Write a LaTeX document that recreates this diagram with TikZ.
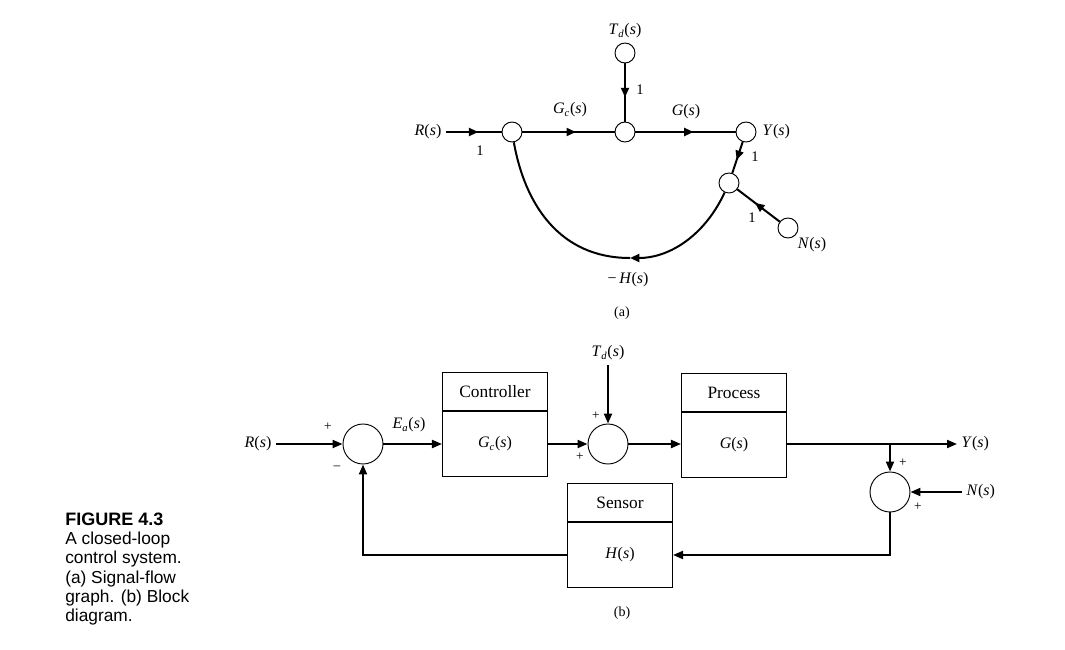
\documentclass[tikz,border=0pt]{standalone}
\usepackage{fontspec}
\setmainfont{Liberation Serif}
\setsansfont{Liberation Sans}
\usetikzlibrary{arrows.meta, decorations.markings, positioning}
\newcommand{\tfn}[1]{\textit{#1}(\textit{s})}
\newcommand{\tfnsub}[2]{\textit{#1}\textsubscript{\textit{#2}}(\textit{s})}

\begin{document}
\begin{tikzpicture}[x=0.75pt, y=-0.75pt,
  every node/.style={font=\fontsize{12}{14}\selectfont},
  sfnode/.style={circle, draw, line width=0.7pt, minimum size=15pt, inner sep=0pt},
  sfbranch/.style={line width=1.5pt},
  midarrow/.style={postaction={decorate}, decoration={markings, mark=at position #1 with {\arrow{Triangle[length=7pt,width=6pt]}}}},
  midarrow/.default=0.58,
  gain/.style={font=\fontsize{11}{12}\selectfont, inner sep=1pt},
  sumnode/.style={circle, draw, line width=0.7pt, minimum size=30pt, inner sep=0pt},
  blockhead/.style={draw, line width=0.8pt, minimum width=78.75pt, minimum height=28.5pt, inner sep=0pt, font=\fontsize{13}{15}\selectfont},
  blockbody/.style={draw, line width=0.8pt, minimum width=78.75pt, minimum height=48.75pt, inner sep=0pt},
  signal/.style={line width=1.5pt, -{Triangle[length=7.5pt,width=6pt]}},
  wire/.style={line width=1.5pt},
  sign/.style={font=\fontsize{10}{11}\selectfont, inner sep=0pt},
  sublabel/.style={font=\fontsize{10.5}{12}\selectfont},
  caption/.style={font=\sffamily\fontsize{13}{14.3}\selectfont, align=left, inner sep=0pt}]
  \useasboundingbox (0,0) rectangle (1065,650);

  \node[sfnode] (n1) at (512,132) {};
  \node[sfnode] (n2) at (625,132) {};
  \node[sfnode] (ny) at (746,132) {};
  \node[sfnode] (ntd) at (625,53) {};
  \node[sfnode] (nj) at (729,183) {};
  \node[sfnode] (nn) at (788,228) {};
  \node (rin) at (428,132) {\tfn{R}};
  \node (tdin) at (625,31) {\tfnsub{T}{d}};
  \node[anchor=west] (yout) at (758,132) {\tfn{Y}};
  \node (nin) at (812,245) {\tfn{N}};
  \coordinate (hbot) at (630,258);
  \draw[sfbranch, midarrow] (rin) -- (n1);
  \draw[sfbranch, midarrow] (n1) -- (n2);
  \draw[sfbranch, midarrow] (ntd) -- (n2);
  \draw[sfbranch, midarrow] (n2) -- (ny);
  \draw[sfbranch, midarrow] (ny) -- (nj);
  \draw[sfbranch, midarrow] (nn) -- (nj);
  \draw[sfbranch, -{Triangle[length=7pt,width=6pt]}] (nj) .. controls (705,235) and (670,258) .. (hbot);
  \draw[sfbranch] (hbot) .. controls (560,258) and (525,205) .. (n1);
  \node[gain] (g1) at (480,151) {1};
  \node (gcl) at (570,110) {\tfnsub{G}{c}};
  \node[gain] (g2) at (640,90) {1};
  \node (gl) at (686,112) {\tfn{G}};
  \node[gain] (g3) at (755,157) {1};
  \node[gain] (g4) at (752,218) {1};
  \node (hl) at (628,280) {−\,\tfn{H}};
  \node[sublabel] (capa) at (622,313) {(a)};

  \node[sumnode] (s1) at (363,444) {};
  \node[sumnode] (s2) at (608,444) {};
  \node[sumnode] (s3) at (890,492) {};
  \node[blockbody] (ctrl) at (495,444) {\tfnsub{G}{c}};
  \node[blockhead, above=0pt of ctrl] (ctrlh) {Controller};
  \node[blockbody] (proc) at (734,445) {\tfn{G}};
  \node[blockhead, above=0pt of proc] (proch) {Process};
  \node[blockbody] (sens) at (620,555) {\tfn{H}};
  \node[blockhead, above=0pt of sens] (sensh) {Sensor};
  \node (rb) at (258,444) {\tfn{R}};
  \node (tdb) at (608,353) {\tfnsub{T}{d}};
  \node[anchor=west] (yb) at (957,444) {\tfn{Y}};
  \node[anchor=west] (nb) at (962,492) {\tfn{N}};
  \node (eal) at (409,425) {\tfnsub{E}{a}};
  \coordinate (ybr) at (890,444);
  \draw[signal] (rb) -- (s1);
  \draw[signal] (s1) -- (ctrl);
  \draw[signal] (ctrl) -- (s2);
  \draw[signal] (tdb) -- (s2);
  \draw[signal] (s2) -- (s2 -| proc.west);
  \draw[signal] (proc.east |- s2) -- (yb.west);
  \draw[signal] (ybr) -- (s3);
  \draw[signal] (nb.west) -- (s3);
  \draw[signal] (s3) |- (sens);
  \draw[signal] (sens) -| (s1);
  \node[sign] (p1) at (328,427) {+};
  \node[sign] (m1) at (337,468) {–};
  \node[sign] (p2) at (596,416) {+};
  \node[sign] (p3) at (580,457) {+};
  \node[sign] (p4) at (903,463) {+};
  \node[sign] (p5) at (918,507) {+};
  \node[sublabel] (capb) at (622,613) {(b)};

  \node[caption, anchor=north west] (cap) at (65,513) {{\bfseries\fontsize{13.5}{14.3}\selectfont FIGURE 4.3}\\A closed-loop\\control system.\\(a) Signal-flow\\graph. (b) Block\\diagram.};
\end{tikzpicture}
\end{document}
